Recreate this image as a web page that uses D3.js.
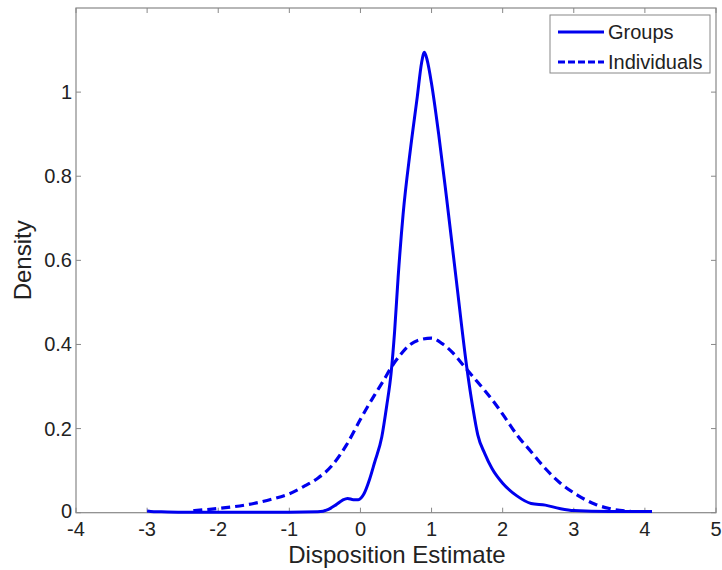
<!DOCTYPE html>
<html><head><meta charset="utf-8">
<script src="https://cdn.jsdelivr.net/npm/d3@7"></script>
<style>body{margin:0;background:#fff}svg{display:block}text{font-family:"Liberation Sans",Arial,sans-serif;fill:#222}</style>
</head><body><svg id="c" width="722" height="570"></svg>
<script>
const xTicks = [-4,-3,-2,-1,0,1,2,3,4,5];
const yTicks = [0,0.2,0.4,0.6,0.8,1];
const yTickLabels = ["0","0.2","0.4","0.6","0.8","1"];
const seriesNames = ["Groups","Individuals"];
const groupsX = [-3.0,-2.95,-2.8,-2.5,-2,-1.5,-1,-0.6,-0.45,-0.35,-0.25,-0.18,-0.1,-0.03,0.05,0.13,0.2,0.3,0.37,0.43,0.48,0.53,0.6,0.7,0.8,0.86,0.9,0.94,1.0,1.1,1.21,1.35,1.5,1.58,1.65,1.75,1.85,2.0,2.2,2.4,2.6,2.8,3.0,3.5,4.1];
const groupsY = [0.004,0.003,0.002,0.001,0.001,0.001,0.001,0.002,0.008,0.018,0.03,0.034,0.031,0.031,0.045,0.08,0.12,0.18,0.255,0.33,0.43,0.56,0.71,0.86,0.99,1.07,1.095,1.075,1.02,0.9,0.75,0.55,0.34,0.25,0.185,0.14,0.105,0.07,0.04,0.022,0.018,0.01,0.005,0.003,0.003];
const indivX = [-2.35,-2,-1.5,-1.25,-1,-0.8,-0.6,-0.4,-0.2,0,0.1,0.2,0.32,0.45,0.56,0.7,0.85,1.0,1.15,1.3,1.45,1.6,1.75,1.9,2.05,2.2,2.4,2.6,2.8,3.05,3.3,3.5,3.8];
const indivY = [0.005,0.01,0.022,0.032,0.045,0.062,0.082,0.112,0.16,0.222,0.252,0.28,0.313,0.35,0.375,0.4,0.412,0.415,0.402,0.38,0.35,0.32,0.29,0.258,0.222,0.185,0.145,0.105,0.072,0.042,0.02,0.01,0.003];

const svg = d3.select("#c");
const L=76,R=716,T=8,B=512.7;
const x = d3.scaleLinear().domain([-4,5]).range([L,R]);
const y = d3.scaleLinear().domain([0,1.2]).range([B,T]);
const axisCol="#888";
const blue="#0000ee";

svg.append("rect").attr("x",L).attr("y",T).attr("width",R-L).attr("height",B-T)
  .attr("fill","none").attr("stroke",axisCol).attr("stroke-width",1.2);

const tk=5;
const g=svg.append("g").attr("stroke",axisCol).attr("stroke-width",1);
xTicks.forEach(v=>{
  g.append("line").attr("x1",x(v)).attr("x2",x(v)).attr("y1",B).attr("y2",B-tk);
  g.append("line").attr("x1",x(v)).attr("x2",x(v)).attr("y1",T).attr("y2",T+tk);
});
yTicks.forEach(v=>{
  g.append("line").attr("x1",L).attr("x2",L+tk).attr("y1",y(v)).attr("y2",y(v));
  g.append("line").attr("x1",R).attr("x2",R-tk).attr("y1",y(v)).attr("y2",y(v));
});
svg.append("g").selectAll("text").data(xTicks).join("text")
  .attr("x",d=>x(d)).attr("y",536).attr("text-anchor","middle").attr("font-size",20).text(d=>d);
svg.append("g").selectAll("text").data(yTicks).join("text")
  .attr("x",72).attr("y",d=>y(d)+(d===0?5:7)).attr("text-anchor","end").attr("font-size",20).text((d,i)=>yTickLabels[i]);

svg.append("text").attr("x",(L+R)/2+1).attr("y",563).attr("text-anchor","middle").attr("font-size",24).text("Disposition Estimate");
svg.append("text").attr("transform",`translate(31,${(T+B)/2}) rotate(-90)`).attr("text-anchor","middle").attr("font-size",24).text("Density");

const line=d3.line().x(d=>x(d[0])).y(d=>y(d[1])).curve(d3.curveMonotoneX);
svg.append("path").datum(indivX.map((v,i)=>[v,indivY[i]])).attr("d",line)
  .attr("fill","none").attr("stroke",blue).attr("stroke-width",3.2).attr("stroke-dasharray","9,5");
svg.append("path").datum(groupsX.map((v,i)=>[v,groupsY[i]])).attr("d",line)
  .attr("fill","none").attr("stroke",blue).attr("stroke-width",3).attr("stroke-linejoin","round");

const lg=svg.append("g");
lg.append("rect").attr("x",550).attr("y",15).attr("width",160).attr("height",58)
  .attr("fill","#fff").attr("stroke",axisCol).attr("stroke-width",1);
[0,1].forEach(i=>{
  const ly=[32,62][i];
  lg.append("line").attr("x1",558).attr("x2",604).attr("y1",ly).attr("y2",ly)
    .attr("stroke",blue).attr("stroke-width",3).attr("stroke-dasharray",i? "7,3":null);
  lg.append("text").attr("x",608).attr("y",ly+7).attr("font-size",20).text(seriesNames[i]);
});
</script></body></html>
